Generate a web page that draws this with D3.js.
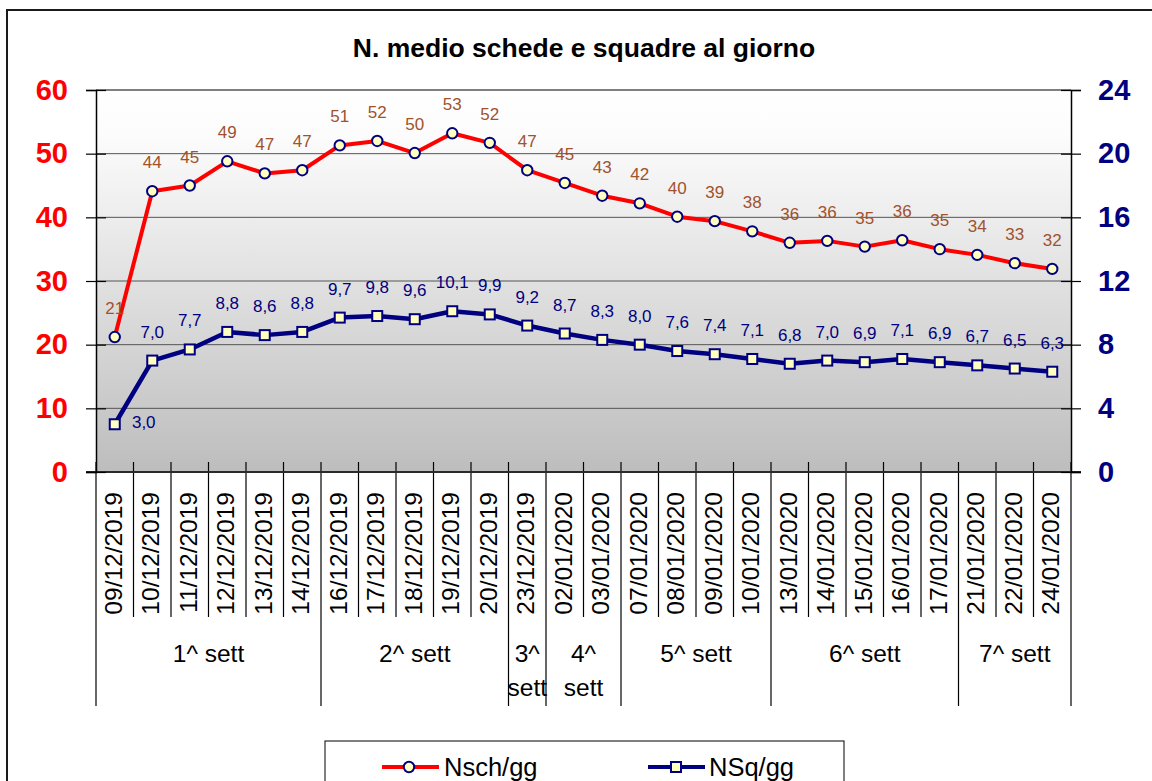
<!DOCTYPE html>
<html><head><meta charset="utf-8">
<script src="https://cdn.jsdelivr.net/npm/d3@7"></script>
<style>body{margin:0;background:#fff}svg{display:block;font-family:"Liberation Sans",Arial,Helvetica,sans-serif}</style>
</head><body><svg id="c" width="1152" height="781"></svg>
<script>
const title = "N. medio schede e squadre al giorno";
const dates = ["09/12/2019","10/12/2019","11/12/2019","12/12/2019","13/12/2019","14/12/2019",
  "16/12/2019","17/12/2019","18/12/2019","19/12/2019","20/12/2019","23/12/2019",
  "02/01/2020","03/01/2020","07/01/2020","08/01/2020","09/01/2020","10/01/2020",
  "13/01/2020","14/01/2020","15/01/2020","16/01/2020","17/01/2020","21/01/2020","22/01/2020","24/01/2020"];
const weekLabels = ["1^ sett","2^ sett","3^ sett","4^ sett","5^ sett","6^ sett","7^ sett"];
const weekSizes = [6,5,1,2,4,5,3];
const nsch = [21.2,44.1,45.0,48.8,46.9,47.4,51.3,52.0,50.1,53.2,51.7,47.4,45.4,43.4,42.2,40.1,39.4,37.8,36.0,36.3,35.4,36.4,35.0,34.1,32.8,31.9];
const nsq = [3.0,7.0,7.7,8.8,8.6,8.8,9.7,9.8,9.6,10.1,9.9,9.2,8.7,8.3,8.0,7.6,7.4,7.1,6.8,7.0,6.9,7.1,6.9,6.7,6.5,6.3];
const leftTicks = [0,10,20,30,40,50,60];
const rightTicks = [0,4,8,12,16,20,24];
const seriesNames = ["Nsch/gg","NSq/gg"];

const RED = "#ff0000", NAVY = "#000080", BROWN = "#a0522d", MFILL = "#ffffc0";
const loc = d3.formatLocale({decimal:",", thousands:".", grouping:[3], currency:["","€"]});
const f0 = loc.format(".0f"), f1 = loc.format(".1f");

const svg = d3.select("#c");
const P = {l:96, r:1071, t:90, b:472};
const x = d3.scaleBand().domain(dates).range([P.l, P.r]).padding(0);
const yL = d3.scaleLinear().domain([0,60]).range([P.b, P.t]);
const yR = d3.scaleLinear().domain([0,24]).range([P.b, P.t]);
const cx = d => x(d) + x.bandwidth()/2;

// outer frame
svg.append("rect").attr("x",7).attr("y",10).attr("width",1170).attr("height",800)
  .attr("fill","#fff").attr("stroke","#1a1a1a").attr("stroke-width",2);

// title
svg.append("text").attr("x",584).attr("y",57).attr("text-anchor","middle")
  .attr("font-weight","bold").attr("font-size","26.5px").attr("fill","#000").text(title);

// gradient
const defs = svg.append("defs");
const g = defs.append("linearGradient").attr("id","bg").attr("x1",0).attr("y1",0).attr("x2",0).attr("y2",1);
g.append("stop").attr("offset","0%").attr("stop-color","#ffffff");
g.append("stop").attr("offset","12%").attr("stop-color","#fcfcfc");
g.append("stop").attr("offset","100%").attr("stop-color","#bdbdbd");
svg.append("rect").attr("x",P.l).attr("y",P.t).attr("width",P.r-P.l).attr("height",P.b-P.t).attr("fill","url(#bg)");

// gridlines
svg.append("g").selectAll("line").data(leftTicks.filter(v => v>0 && v<60)).join("line")
  .attr("x1",P.l).attr("x2",P.r).attr("y1",d=>yL(d)).attr("y2",d=>yL(d))
  .attr("stroke","#555").attr("stroke-width",1);
svg.append("line").attr("x1",P.l).attr("x2",P.r).attr("y1",yL(60)).attr("y2",yL(60))
  .attr("stroke","#808080").attr("stroke-width",2);

// category ticks and group separators
const cum = [0]; weekSizes.forEach(s => cum.push(cum[cum.length-1]+s));
const bx = i => i < dates.length ? x(dates[i]) : P.r;
const bounds = d3.range(dates.length+1);
svg.append("g").selectAll("line").data(bounds).join("line")
  .attr("x1",i=>bx(i)).attr("x2",i=>bx(i)).attr("y1",462)
  .attr("y2",i=>cum.includes(i) ? 706 : 617)
  .attr("stroke","#000").attr("stroke-width",1.2);
svg.append("line").attr("x1",P.l-10).attr("x2",P.r+10).attr("y1",P.b).attr("y2",P.b)
  .attr("stroke","#2a2a2a").attr("stroke-width",2);

// date labels
svg.append("g").selectAll("text").data(dates).join("text")
  .attr("transform",d=>`translate(${cx(d)-2},492) rotate(-90)`)
  .attr("dy","0.36em").attr("text-anchor","end").attr("font-size","24.5px").attr("fill","#000").text(d=>d);

// week labels
weekLabels.forEach((lab,k) => {
  const a = bx(cum[k]), b = bx(cum[k+1]), m = (a+b)/2;
  const t = svg.append("text").attr("text-anchor","middle").attr("font-size","24.5px").attr("fill","#000");
  if (b - a < 90) {
    const parts = lab.split(" ");
    t.append("tspan").attr("x",m).attr("y",662).text(parts[0]);
    t.append("tspan").attr("x",m).attr("y",696).text(parts.slice(1).join(" "));
  } else {
    t.attr("x",m).attr("y",662).text(lab);
  }
});

// axes
const axL = svg.append("g").attr("transform",`translate(${P.l},0)`)
  .call(d3.axisLeft(yL).tickValues(leftTicks).tickSize(10).tickPadding(18).tickFormat(d3.format("d")));
axL.select(".domain").attr("stroke","#000").attr("stroke-width",1.5);
axL.selectAll(".tick line").attr("x1",10).attr("x2",-10).attr("stroke","#000").attr("stroke-width",1.2);
axL.selectAll(".tick text").attr("fill",RED).attr("font-weight","bold").attr("font-size","29px")
  .attr("font-family","'Liberation Sans',Arial,sans-serif");

const axR = svg.append("g").attr("transform",`translate(${P.r},0)`)
  .call(d3.axisRight(yR).tickValues(rightTicks).tickSize(10).tickPadding(17).tickFormat(d3.format("d")));
axR.select(".domain").attr("stroke","#000").attr("stroke-width",1.5);
axR.selectAll(".tick line").attr("x1",-10).attr("x2",10).attr("stroke","#000").attr("stroke-width",1.2);
axR.selectAll(".tick text").attr("fill",NAVY).attr("font-weight","bold").attr("font-size","29px")
  .attr("font-family","'Liberation Sans',Arial,sans-serif");

// series lines
const lineL = d3.line().x((v,i)=>cx(dates[i])).y(v=>yL(v));
const lineR = d3.line().x((v,i)=>cx(dates[i])).y(v=>yR(v));
svg.append("path").datum(nsch).attr("d",lineL).attr("fill","none").attr("stroke",RED)
  .attr("stroke-width",4).attr("stroke-linejoin","round");
svg.append("g").selectAll("circle").data(nsch).join("circle")
  .attr("cx",(v,i)=>cx(dates[i])).attr("cy",v=>yL(v)).attr("r",5.2)
  .attr("fill",MFILL).attr("stroke",NAVY).attr("stroke-width",2);

svg.append("path").datum(nsq).attr("d",lineR).attr("fill","none").attr("stroke",NAVY)
  .attr("stroke-width",4.5).attr("stroke-linejoin","round");
svg.append("g").selectAll("rect").data(nsq).join("rect")
  .attr("x",(v,i)=>cx(dates[i])-5).attr("y",v=>yR(v)-5).attr("width",10).attr("height",10)
  .attr("fill",MFILL).attr("stroke",NAVY).attr("stroke-width",2);

// data labels
svg.append("g").selectAll("text").data(nsch).join("text")
  .attr("x",(v,i)=>cx(dates[i])).attr("y",v=>yL(v)-23).attr("text-anchor","middle")
  .attr("font-size","17px").attr("fill",BROWN).text(v=>f0(v));
svg.append("g").selectAll("text").data(nsq).join("text")
  .attr("x",(v,i)=>cx(dates[i]) + (i===0 ? 29 : 0))
  .attr("y",(v,i)=> i===0 ? yR(v)+4 : yR(v)-23).attr("text-anchor","middle")
  .attr("font-size","17px").attr("fill",NAVY).text(v=>f1(v));

// legend
const lg = svg.append("g");
lg.append("rect").attr("x",325).attr("y",741).attr("width",519).attr("height",70)
  .attr("fill","#fff").attr("stroke","#000").attr("stroke-width",1);
lg.append("line").attr("x1",382).attr("x2",439).attr("y1",767).attr("y2",767).attr("stroke",RED).attr("stroke-width",4);
lg.append("circle").attr("cx",409).attr("cy",767).attr("r",5.2).attr("fill",MFILL).attr("stroke",NAVY).attr("stroke-width",2);
lg.append("text").attr("x",444).attr("y",776).attr("font-size","25.5px").attr("fill","#000").text(seriesNames[0]);
lg.append("line").attr("x1",648).attr("x2",705).attr("y1",767).attr("y2",767).attr("stroke",NAVY).attr("stroke-width",4);
lg.append("rect").attr("x",671).attr("y",762).attr("width",10).attr("height",10).attr("fill",MFILL).attr("stroke",NAVY).attr("stroke-width",2);
lg.append("text").attr("x",709).attr("y",776).attr("font-size","25.5px").attr("fill","#000").text(seriesNames[1]);
</script></body></html>
